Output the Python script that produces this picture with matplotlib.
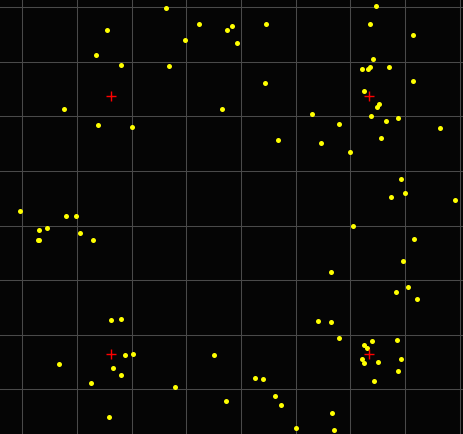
import matplotlib
matplotlib.use('Agg')
import matplotlib.pyplot as plt
import numpy as np

# point positions in grid units (one grid cell = 1), y grows downward
pts_x = [2.63, 3.23, 3.74, 3.84, 1.54, 2.97, 1.35, 1.81, 2.68, 0.76, 3.65, 1.38, 2.00,
         -0.05, 0.79, 0.98,
         6.46, 4.46, 6.35, 7.15, 3.92, 6.42, 6.21, 6.32, 6.36, 6.71, 4.43, 7.15, 6.24,
         6.53, 6.48, 6.37, 6.65, 6.87, 5.30, 5.80, 7.63, 6.56, 4.68, 5.47, 6.00, 6.93,
         7.00, 6.74, 7.91,
         0.30, 0.45, 0.29, 0.31, 1.06, 1.29, 1.63, 1.81, 1.88, 2.02, 3.51, 0.68, 1.66,
         1.81, 1.25, 2.79, 3.72, 1.58,
         6.04, 7.16, 6.97, 5.65, 7.06, 6.83, 7.21, 5.41, 5.65, 5.79, 6.39, 6.85, 6.25,
         6.30, 6.21, 6.24, 6.51, 6.92, 6.87, 6.44, 4.26, 4.40, 4.63, 4.73, 5.67, 5.00,
         5.70]
pts_y = [0.02, 0.31, 0.41, 0.35, 0.42, 0.60, 0.87, 1.06, 1.07, 1.87, 1.86, 2.16, 2.19,
         3.74, 3.83, 3.83,
         -0.02, 0.31, 0.31, 0.50, 0.65, 0.95, 1.13, 1.13, 1.09, 1.09, 1.38, 1.35, 1.53,
         1.77, 1.83, 2.00, 2.08, 2.02, 1.96, 2.14, 2.22, 2.40, 2.44, 2.49, 2.65, 3.15,
         3.40, 3.48, 3.53,
         4.08, 4.04, 4.26, 4.27, 4.14, 4.27, 5.73, 5.71, 6.38, 6.35, 6.38, 6.54, 6.61,
         6.74, 6.88, 6.96, 7.21, 7.51,
         4.01, 4.25, 4.65, 4.85, 5.13, 5.21, 5.35, 5.75, 5.77, 6.06, 6.12, 6.10, 6.18,
         6.24, 6.45, 6.52, 6.50, 6.44, 6.66, 6.84, 6.79, 6.82, 7.13, 7.28, 7.43, 7.70,
         7.75]

# cluster centres
cent_x = [1.63, 6.34, 1.63, 6.34]
cent_y = [1.63, 1.63, 6.35, 6.35]

fig = plt.figure(figsize=(4.64, 4.34), dpi=100)
fig.patch.set_facecolor('#050505')
ax = fig.add_axes([0, 0, 1, 1])
ax.set_facecolor('#050505')

ax.scatter(pts_x, pts_y, s=13, color='#ffff00', linewidths=0, zorder=3)
ax.scatter(cent_x, cent_y, s=45, marker='+', color='#ff0000', linewidths=1.0, zorder=4)

ax.set_xlim(-0.408, 8.078)
ax.set_ylim(7.819, -0.134)
ax.set_xticks(np.arange(0, 9))
ax.set_yticks(np.arange(0, 8))
ax.grid(True, color='#4a4a4a', linewidth=0.75)
ax.tick_params(length=0, labelbottom=False, labelleft=False)
for s in ax.spines.values():
    s.set_visible(False)
ax.set_axisbelow(True)

plt.savefig('out.png', dpi=100, facecolor=fig.get_facecolor())
plt.close()
